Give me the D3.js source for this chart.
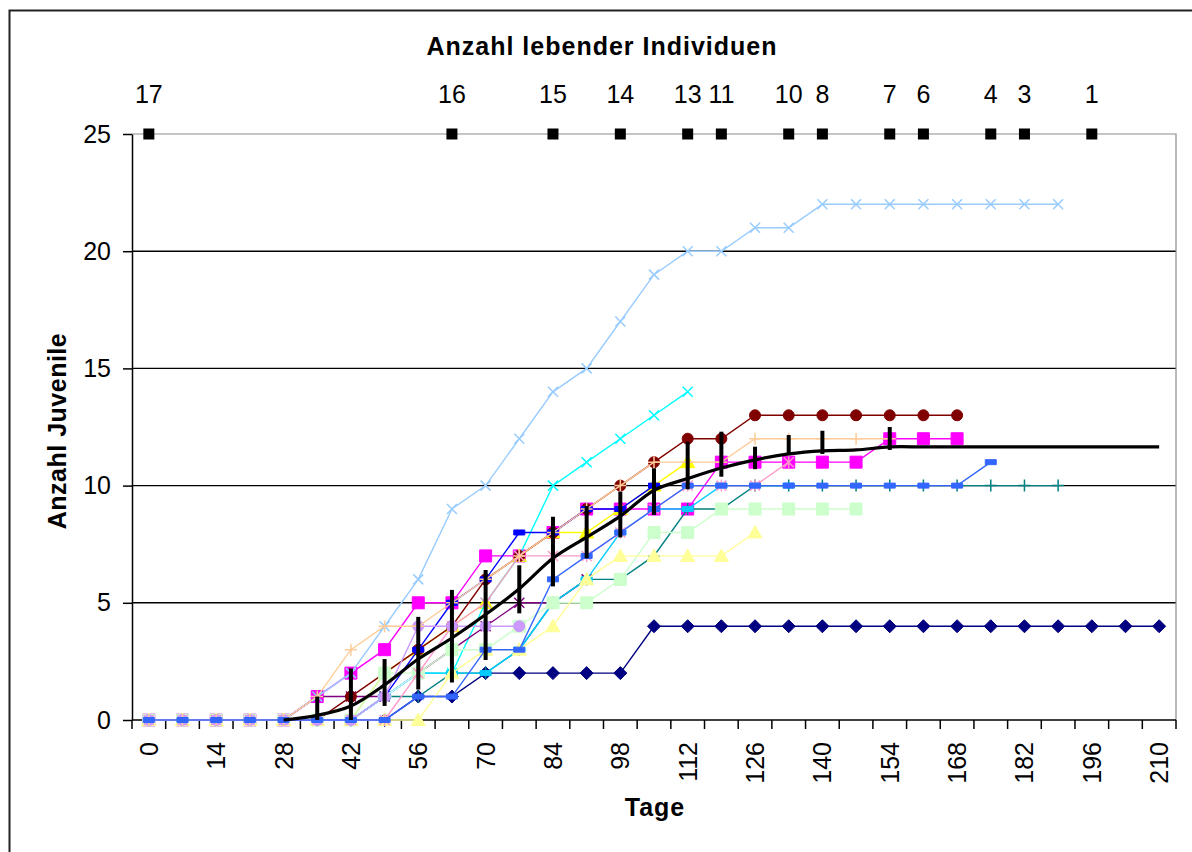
<!DOCTYPE html>
<html><head><meta charset="utf-8">
<script src="https://cdn.jsdelivr.net/npm/d3@7"></script>
<style>
body{margin:0;background:#fff}
svg{display:block}
text{font-family:"Liberation Sans",Arial,sans-serif}
</style>
</head><body>
<svg id="c" width="1192" height="852"></svg>
<script>
const N = null;
// Category axis: days 0..210 step 7
const days = d3.range(0, 211, 7);
const tickDays = d3.range(0, 211, 14);
const yTicks = [0, 5, 10, 15, 20, 25];

// Individual series (Anzahl Juvenile per day), null = individual no longer alive
const navy      = [0,0,0,0,0,0,0,0,1,1,2,2,2,2,2,4,4,4,4,4,4,4,4,4,4,4,4,4,4,4,4];
const magenta   = [0,0,0,0,0,1,2,3,5,5,7,7,8,9,9,9,9,11,11,11,11,11,12,12,12,N,N,N,N,N,N];
const yellow    = [0,0,0,0,0,0,0,2,3,4,5,7,8,8,9,10,11,N,N,N,N,N,N,N,N,N,N,N,N,N,N];
const cyan      = [0,0,0,0,0,0,0,1,2,2,5,7,10,11,12,13,14,N,N,N,N,N,N,N,N,N,N,N,N,N,N];
const purple    = [0,0,0,0,0,1,1,1,2,3,4,5,5,6,N,N,N,N,N,N,N,N,N,N,N,N,N,N,N,N,N];
const darkred   = [0,0,0,0,0,0,1,2,3,4,6,7,8,9,10,11,12,12,13,13,13,13,13,13,13,N,N,N,N,N,N];
const teal      = [0,0,0,0,0,0,0,1,1,2,2,3,5,6,6,7,9,9,10,10,10,10,10,10,10,10,10,10,N,N,N];
const blue      = [0,0,0,0,0,0,0,1,3,5,6,8,8,9,9,10,N,N,N,N,N,N,N,N,N,N,N,N,N,N,N];
const sky       = [0,0,0,0,0,0,0,1,2,2,2,3,5,6,8,9,9,10,10,10,N,N,N,N,N,N,N,N,N,N,N];
const lightcyan = [0,0,0,0,0,0,0,1,2,N,N,N,N,N,N,N,N,N,N,N,N,N,N,N,N,N,N,N,N,N,N];
const lightgreen= [0,0,0,0,0,0,0,2,2,3,3,4,5,5,6,8,8,9,9,9,9,9,N,N,N,N,N,N,N,N,N];
const lightyel  = [0,0,0,0,0,0,0,0,0,2,3,3,4,6,7,7,7,7,8,N,N,N,N,N,N,N,N,N,N,N,N];
const paleblue  = [0,0,0,0,0,1,2,4,6,9,10,12,14,15,17,19,20,20,21,21,22,22,22,22,22,22,22,22,N,N,N];
const pink      = [0,0,0,0,0,0,0,0,2,4,5,7,7,7,8,9,10,10,10,11,N,N,N,N,N,N,N,N,N,N,N];
const lavender  = [0,0,0,0,0,0,0,1,4,4,4,4,N,N,N,N,N,N,N,N,N,N,N,N,N,N,N,N,N,N,N];
const tan       = [0,0,0,0,0,1,3,4,4,5,6,7,8,9,10,11,11,11,12,12,12,12,12,N,N,N,N,N,N,N,N];
const royal     = [0,0,0,0,0,0,0,0,1,1,3,3,6,7,8,9,10,10,10,10,10,10,10,10,10,11,N,N,N,N,N];

// Mean with error bars
const meanVals  = [N,N,N,N,0,0.2,0.6,1.5,2.6,3.5,4.5,5.6,6.9,7.8,8.7,9.8,10.3,10.75,11.1,11.35,11.48,11.52,11.65,11.65,11.65,11.65,11.65,11.65,11.65,11.65,11.65];
const errPlus   = [N,N,N,N,N,0.8,1.6,1.1,1.8,2.05,1.9,1.0,1.77,1.33,1.04,0.94,1.57,1.55,0.56,0.81,0.86,N,0.85,N,N,N,N,N,N,N,N];
const errMinus  = [N,N,N,N,N,0.8,1.6,0.9,1.3,1.9,1.94,1.05,1.2,0.9,0.91,1.05,0.46,0.37,0.4,0.05,0.13,N,0.13,N,N,N,N,N,N,N,N];

// Number of living individuals (top row)
const aliveDays   = [0,63,84,98,112,119,133,140,154,161,175,182,196];
const aliveCounts = [17,16,15,14,13,11,10,8,7,6,4,3,1];
const aliveLevel  = 25;

const seriesList = [
  {vals: navy,       color: "#000080", marker: "diamond"},
  {vals: magenta,    color: "#FF00FF", marker: "square"},
  {vals: yellow,     color: "#FFFF00", marker: "triangle"},
  {vals: cyan,       color: "#00FFFF", marker: "x"},
  {vals: purple,     color: "#800080", marker: "star"},
  {vals: darkred,    color: "#800000", marker: "circle"},
  {vals: teal,       color: "#008080", marker: "plus"},
  {vals: blue,       color: "#0000FF", marker: "dash"},
  {vals: sky,        color: "#00CCFF", marker: "dash"},
  {vals: lightcyan,  color: "#CCFFFF", marker: "diamond"},
  {vals: lightgreen, color: "#CCFFCC", marker: "square"},
  {vals: lightyel,   color: "#FFFF99", marker: "triangle"},
  {vals: paleblue,   color: "#99CCFF", marker: "x"},
  {vals: pink,       color: "#FF99CC", marker: "star"},
  {vals: lavender,   color: "#CC99FF", marker: "circle"},
  {vals: tan,        color: "#FFCC99", marker: "plus"},
  {vals: royal,      color: "#3366FF", marker: "dash"}
];

const svg = d3.select("#c");
const FONT = "Liberation Sans, Arial, sans-serif";
const x = d3.scaleBand().domain(days).range([132, 1176]).padding(0);
const cx = d => x(d) + x.bandwidth() / 2;
const y = d3.scaleLinear().domain([0, 25]).range([720, 134]);

// outer chart frame
svg.append("path").attr("d", "M9.5,852V10.5H1192").attr("fill", "none").attr("stroke", "#222").attr("stroke-width", 2);

// gridlines
svg.append("g").selectAll("line").data([5, 10, 15, 20]).join("line")
  .attr("x1", 132).attr("x2", 1176)
  .attr("y1", d => y(d)).attr("y2", d => y(d))
  .attr("stroke", "#000").attr("stroke-width", 1.4);

// plot border (top, right)
svg.append("path").attr("d", `M132,${y(25)}H${x.range()[1]}V${y(0)}`)
  .attr("fill", "none").attr("stroke", "#8c8c8c").attr("stroke-width", 1.2);

// y axis
const gy = svg.append("g").attr("transform", "translate(132,0)")
  .call(d3.axisLeft(y).tickValues(yTicks).tickSizeInner(9).tickSizeOuter(0).tickPadding(12));
gy.attr("font-family", FONT).attr("font-size", 25);
gy.selectAll("path,line").attr("stroke", "#000").attr("stroke-width", 1.5);
gy.selectAll("text").attr("fill", "#000");

// x axis line + boundary ticks
const gx = svg.append("g");
gx.append("line").attr("x1", 132).attr("x2", 1176).attr("y1", y(0)).attr("y2", y(0))
  .attr("stroke", "#000").attr("stroke-width", 1.5);
const bounds = days.map(d => x(d)).concat([x.range()[1]]);
gx.selectAll("line.tk").data(bounds).join("line").attr("class", "tk")
  .attr("x1", d => d).attr("x2", d => d).attr("y1", y(0)).attr("y2", y(0) + 9)
  .attr("stroke", "#000").attr("stroke-width", 1.5);
const gxl = svg.append("g").attr("transform", `translate(0,${y(0)})`)
  .call(d3.axisBottom(x).tickValues(tickDays).tickSize(0));
gxl.select(".domain").remove();
gxl.attr("font-family", FONT).attr("font-size", 25);
gxl.selectAll("text").attr("fill", "#000")
  .attr("transform", "rotate(-90)").attr("text-anchor", "end")
  .attr("x", -22).attr("y", 0).attr("dy", "0.36em");

// marker shapes
function markerPath(type) {
  switch (type) {
    case "diamond": return "M0,-6.5L6.5,0L0,6.5L-6.5,0Z";
    case "square": return "M-6,-6h12v12h-12Z";
    case "triangle": return "M0,-7L7,5.5L-7,5.5Z";
    case "x": return "M-5,-5L5,5M-5,5L5,-5";
    case "star": return "M-5,-5L5,5M-5,5L5,-5M0,-6V6";
    case "circle": return d3.symbol(d3.symbolCircle, Math.PI * 5.5 * 5.5)();
    case "plus": return "M-6,0H6M0,-6V6";
    case "dash": return "M-5.5,-2.5h11v5h-11Z";
  }
}
const strokeOnly = {x: true, star: true, plus: true};

const line = d3.line().defined(d => d.v != null).x(d => cx(d.day)).y(d => y(d.v));
const gs = svg.append("g");
seriesList.forEach(s => {
  const data = days.map((day, i) => ({day, v: s.vals[i]}));
  const g = gs.append("g");
  g.append("path").attr("d", line(data)).attr("fill", "none")
    .attr("stroke", s.color).attr("stroke-width", 1.4);
  const pts = data.filter(d => d.v != null);
  const so = strokeOnly[s.marker];
  g.selectAll("path.m").data(pts).join("path").attr("class", "m")
    .attr("d", markerPath(s.marker))
    .attr("transform", d => `translate(${cx(d.day)},${y(d.v)})`)
    .attr("fill", so ? "none" : s.color)
    .attr("stroke", s.color).attr("stroke-width", so ? 1.5 : 1);
});

// mean line with error bars
const meanData = days.map((day, i) => ({day, v: meanVals[i], p: errPlus[i], m: errMinus[i]}));
svg.append("path")
  .attr("d", d3.line().defined(d => d.v != null).x(d => cx(d.day)).y(d => y(d.v)).curve(d3.curveCatmullRom)(meanData))
  .attr("fill", "none").attr("stroke", "#000").attr("stroke-width", 3.2);
svg.append("g").selectAll("line").data(meanData.filter(d => d.p != null)).join("line")
  .attr("x1", d => cx(d.day)).attr("x2", d => cx(d.day))
  .attr("y1", d => y(Math.min(25, d.v + d.p)))
  .attr("y2", d => y(Math.max(0, d.v - d.m)))
  .attr("stroke", "#000").attr("stroke-width", 4);

// alive individuals markers and labels
const alive = aliveDays.map((d, i) => ({day: d, n: aliveCounts[i]}));
const ga = svg.append("g");
ga.selectAll("rect").data(alive).join("rect")
  .attr("x", d => cx(d.day) - 5.5).attr("y", y(aliveLevel) - 5.5)
  .attr("width", 11).attr("height", 11).attr("fill", "#000");
ga.selectAll("text").data(alive).join("text")
  .attr("x", d => cx(d.day)).attr("y", y(aliveLevel) - 31)
  .attr("text-anchor", "middle").attr("font-size", 25).attr("fill", "#000")
  .text(d => d.n);

// titles
svg.append("text").attr("x", 602).attr("y", 55).attr("text-anchor", "middle")
  .attr("font-size", 25).attr("font-weight", "bold").attr("letter-spacing", 1)
  .text("Anzahl lebender Individuen");
svg.append("text").attr("x", 655).attr("y", 816).attr("text-anchor", "middle")
  .attr("font-size", 25).attr("font-weight", "bold").attr("letter-spacing", 1)
  .text("Tage");
svg.append("text").attr("transform", "translate(66,431) rotate(-90)").attr("text-anchor", "middle")
  .attr("font-size", 25).attr("font-weight", "bold").attr("letter-spacing", 0.5)
  .text("Anzahl Juvenile");
</script>
</body></html>
